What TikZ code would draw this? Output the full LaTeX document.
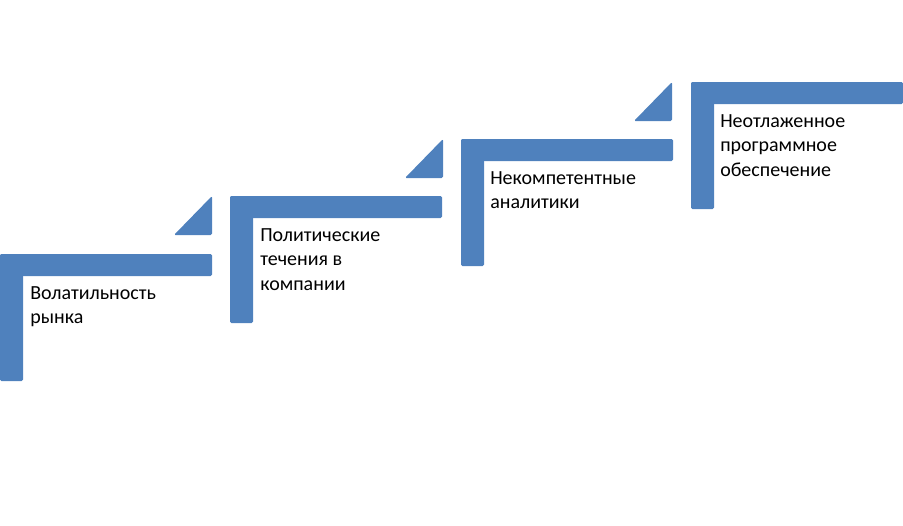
\documentclass[tikz,border=0pt]{standalone}
\usepackage{fontspec}
\setmainfont{Carlito}
\definecolor{stepblue}{HTML}{4F81BD}
\tikzset{
  stepbar/.style={fill=stepblue, rounded corners=1pt},
  steptext/.style={anchor=north west, align=left, inner sep=0pt, font=\fontsize{15}{18.5}\selectfont}
}
\begin{document}
\begin{tikzpicture}[x=0.75pt,y=-0.75pt]
\useasboundingbox (0,0) rectangle (903,525);

% L-shaped steps: x offset / y offset
\foreach \sx/\sy in {0/254,230/196,461/139,691/82} {
  \fill[stepbar] (\sx,\sy) rectangle ++(212,22);
  \fill[stepbar] (\sx,\sy) rectangle ++(23,127);
}

% Small arrows between steps
\foreach \tx/\ty in {174/196,405/139,634/82} {
  \fill[stepbar] (\tx,\ty+39) -- (\tx+38,\ty+39) -- (\tx+38,\ty) -- cycle;
}

% Labels
\node[steptext] (market) at (30,286) {Волатильность\\рынка};
\node[steptext] (politics) at (260,228) {Политические\\течения в\\компании};
\node[steptext] (analysts) at (490,171) {Некомпетентные\\аналитики};
\node[steptext] (software) at (720,114) {Неотлаженное\\программное\\обеспечение};
\end{tikzpicture}
\end{document}
